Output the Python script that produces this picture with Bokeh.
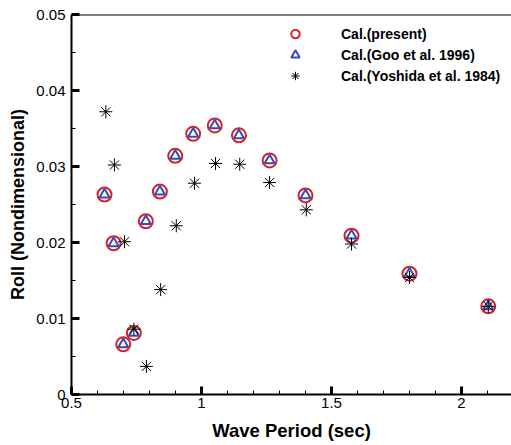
from bokeh.plotting import figure
from bokeh.models import Range1d, Span, Legend, LegendItem, FixedTicker
from bokeh.embed import file_html
from bokeh.resources import INLINE

# Data
period = [0.627, 0.662, 0.699, 0.740, 0.786, 0.840, 0.899, 0.968, 1.051, 1.144, 1.262, 1.400, 1.577, 1.800, 2.103]
present = [0.0263, 0.0199, 0.0066, 0.0081, 0.0228, 0.0267, 0.0314, 0.0343, 0.0354, 0.0341, 0.0308, 0.0262, 0.0209, 0.0159, 0.0116]
goo = [0.0263, 0.0199, 0.0066, 0.0081, 0.0228, 0.0267, 0.0314, 0.0343, 0.0354, 0.0341, 0.0308, 0.0262, 0.0209, 0.0159, 0.0116]
yosh_period = [0.632, 0.665, 0.704, 0.740, 0.788, 0.843, 0.903, 0.973, 1.054, 1.147, 1.262, 1.403, 1.577, 1.800, 2.103]
yoshida = [0.0372, 0.0302, 0.0201, 0.0086, 0.0037, 0.0138, 0.0222, 0.0278, 0.0304, 0.0303, 0.0279, 0.0243, 0.0198, 0.0154, 0.0116]

x_ticks = [0.5, 1.0, 1.5, 2.0]
x_labels = ["0.5", "1", "1.5", "2"]
x_minor = [0.6, 0.7, 0.8, 0.9, 1.1, 1.2, 1.3, 1.4, 1.6, 1.7, 1.8, 1.9, 2.1]
y_ticks = [0.0, 0.01, 0.02, 0.03, 0.04, 0.05]
y_labels = ["0", "0.01", "0.02", "0.03", "0.04", "0.05"]
y_minor = [0.005, 0.015, 0.025, 0.035, 0.045]

FONT = "Liberation Sans"

p = figure(width=511, height=445, output_backend="svg", toolbar_location=None,
           x_range=Range1d(0.5, 0.5 + 440 / 260), y_range=Range1d(0, 0.05),
           min_border_left=71, min_border_right=0, min_border_top=14, min_border_bottom=51)
p.outline_line_color = None
p.xgrid.visible = False
p.ygrid.visible = False
p.background_fill_color = "white"
p.border_fill_color = "white"

for ax, ticks, labels, minor in ((p.xaxis[0], x_ticks, x_labels, x_minor),
                                 (p.yaxis[0], y_ticks, y_labels, y_minor)):
    ax.ticker = FixedTicker(ticks=ticks, minor_ticks=minor)
    ax.major_label_overrides = {t: l for t, l in zip(ticks, labels)}
    ax.axis_line_width = 2
    ax.axis_line_color = "black"
    ax.major_tick_in = 8
    ax.major_tick_out = 0
    ax.major_tick_line_width = 3
    ax.minor_tick_in = 4
    ax.minor_tick_out = 0
    ax.minor_tick_line_width = 1
    ax.major_label_text_font = FONT
    ax.major_label_text_font_size = "15px"
    ax.major_label_text_color = "black"
    ax.axis_label_text_font = FONT
    ax.axis_label_text_font_style = "bold"
    ax.axis_label_text_color = "black"

p.xaxis.axis_label = "Wave Period (sec)"
p.yaxis.axis_label = "Roll (Nondimensional)"
p.xaxis.axis_label_text_font_size = "18.5px"
p.yaxis.axis_label_text_font_size = "18px"
p.xaxis.major_label_standoff = 3
p.yaxis.major_label_standoff = 6
p.xaxis.axis_label_standoff = 9
p.yaxis.axis_label_standoff = 5

p.add_layout(Span(location=0.05, dimension="width", line_color="black", line_width=2))

r1 = p.scatter(period, present, marker="circle", size=14, fill_color=None,
               line_color="#d8202a", line_width=2)
r2 = p.scatter(period, goo, marker="triangle", size=10, fill_color=None,
               line_color="#3a4bb0", line_width=2)
r3 = p.scatter(yosh_period, yoshida, marker="asterisk", size=13,
               line_color="black", line_width=1)

legend = Legend(items=[LegendItem(label="Cal.(present)", renderers=[r1]),
                       LegendItem(label="Cal.(Goo et al. 1996)", renderers=[r2]),
                       LegendItem(label="Cal.(Yoshida et al. 1984)", renderers=[r3])],
                location=(211, 308))
legend.border_line_color = None
legend.background_fill_alpha = 0
legend.padding = 0
legend.margin = 0
legend.spacing = 0
legend.glyph_width = 26
legend.glyph_height = 21
legend.label_height = 20
legend.label_standoff = 33
legend.label_text_font = FONT
legend.label_text_font_style = "bold"
legend.label_text_font_size = "14px"
legend.label_text_color = "black"
p.add_layout(legend)

open("out.html", "w").write(file_html(p, INLINE))
